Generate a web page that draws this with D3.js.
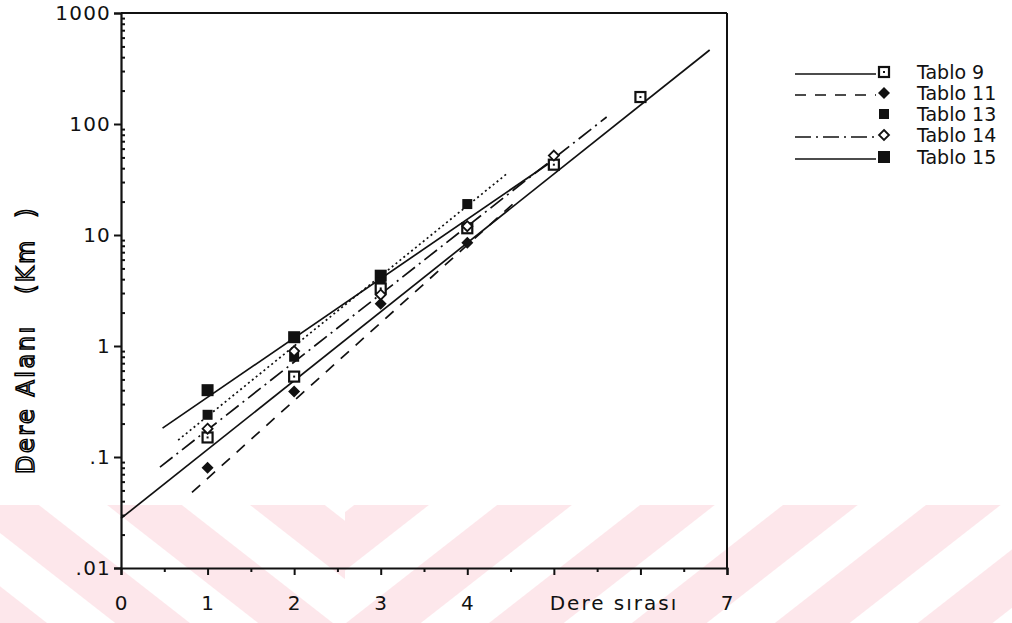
<!DOCTYPE html>
<html>
<head>
<meta charset="utf-8">
<script src="https://cdn.jsdelivr.net/npm/d3@7"></script>
<style>
  html, body { margin: 0; padding: 0; background: #fff; }
  svg { display: block; }
  text { font-family: "DejaVu Sans", sans-serif; fill: #111; }
</style>
</head>
<body>
<svg id="chart" width="1012" height="623"></svg>
<script>
// Stream order (x) against drainage area in km² (log y)
const orders = [1, 2, 3, 4, 5, 6];

const seriesNames = ["Tablo 9", "Tablo 11", "Tablo 13", "Tablo 14", "Tablo 15"];

// Mean areas per order for each table (null = no value)
const tablo9  = [0.15, 0.53, 3.3, 11.5, 43, 175];
const tablo11 = [0.08, 0.39, 2.4, 8.5, null, null];
const tablo13 = [0.24, 0.80, 3.7, 19, null, null];
const tablo14 = [0.18, 0.90, 2.9, 12, 52, null];
const tablo15 = [0.40, 1.20, 4.3, null, null, null];

// Fitted regression lines: start/end order and area
const fit9  = { x: [0.0, 6.8],  y: [0.028, 464] };
const fit11 = { x: [0.82, 4.6], y: [0.048, 21.4] };
const fit13 = { x: [0.66, 4.47], y: [0.142, 36.3] };
const fit14 = { x: [0.45, 5.61], y: [0.081, 115.6] };
const fit15 = { x: [0.48, 4.95], y: [0.182, 44.6] };

const xTicks = [0, 1, 2, 3, 4, 5, 6, 7];
const xTickLabels = ["0", "1", "2", "3", "4", "", "", "7"];
const xMinorTicks = [0.5, 1.5, 2.5, 3.5, 4.5, 5.5, 6.5];
const yTicks = [0.01, 0.1, 1, 10, 100, 1000];
const yTickLabels = [".01", ".1", "1", "10", "100", "1000"];

const svg = d3.select("#chart");

const x = d3.scaleLinear().domain([0, 7]).range([121, 727]);
const y = d3.scaleLog().domain([0.01, 1000]).range([568, 13]);

// Light diagonal background band along the bottom
const defs = svg.append("defs");
function stripePattern(id, angle, offset) {
  const p = defs.append("pattern")
    .attr("id", id)
    .attr("patternUnits", "userSpaceOnUse")
    .attr("x", offset)
    .attr("width", 88).attr("height", 200)
    .attr("patternTransform", `rotate(${angle})`);
  p.append("rect").attr("width", 46).attr("height", 200).attr("fill", "#fde7eb");
}
stripePattern("stripeL", -52, 20);
stripePattern("stripeR", 52, 0);
svg.append("rect").attr("x", 0).attr("y", 505).attr("width", 345).attr("height", 118)
  .attr("fill", "url(#stripeL)");
svg.append("rect").attr("x", 345).attr("y", 505).attr("width", 667).attr("height", 118)
  .attr("fill", "url(#stripeR)");

// Frame (top and right edges)
const frame = svg.append("g").attr("stroke", "#111").attr("stroke-width", 2).attr("fill", "none");
frame.append("line").attr("x1", x(0)).attr("x2", x(7)).attr("y1", y(1000)).attr("y2", y(1000));
frame.append("line").attr("x1", x(7)).attr("x2", x(7)).attr("y1", y(1000)).attr("y2", y(0.01));

// Y axis: decade ticks outward, minor ticks inward
const yMinor = [];
for (let e = -2; e < 3; e++) for (let m = 2; m <= 9; m++) yMinor.push(m * Math.pow(10, e));

svg.append("g").attr("transform", `translate(${x(0)},0)`)
  .call(d3.axisLeft(y).tickValues(yTicks).tickSize(7).tickFormat(""));
svg.append("g").attr("transform", `translate(${x(0)},0)`)
  .call(d3.axisRight(y).tickValues(yMinor).tickSize(4).tickFormat(""))
  .call(g => g.select(".domain").remove());

// X axis
svg.append("g").attr("transform", `translate(0,${y(0.01)})`)
  .call(d3.axisBottom(x).tickValues(xTicks).tickSize(7).tickFormat(""));
svg.append("g").attr("transform", `translate(0,${y(0.01)})`)
  .call(d3.axisBottom(x).tickValues(xMinorTicks).tickSize(4).tickFormat(""))
  .call(g => g.select(".domain").remove());

svg.selectAll(".domain").attr("stroke", "#111").attr("stroke-width", 2.2);
svg.selectAll(".tick line").attr("stroke", "#111").attr("stroke-width", 2);

// Tick labels
svg.append("g").selectAll("text").data(yTicks).join("text")
  .attr("x", x(0) - 10)
  .attr("y", d => y(d) + 7)
  .attr("text-anchor", "end")
  .attr("font-size", 20)
  .attr("letter-spacing", 1.2)
  .text((d, i) => yTickLabels[i]);

svg.append("g").selectAll("text").data(xTicks).join("text")
  .attr("x", d => x(d))
  .attr("y", 610)
  .attr("text-anchor", "middle")
  .attr("font-size", 20)
  .text((d, i) => xTickLabels[i]);

// Axis titles
svg.append("text")
  .attr("x", 614).attr("y", 610)
  .attr("text-anchor", "middle")
  .attr("font-size", 20)
  .attr("letter-spacing", 2)
  .text("Dere sırası");

svg.append("text")
  .attr("transform", "translate(34,340) rotate(-90)")
  .attr("text-anchor", "middle")
  .attr("font-size", 24)
  .attr("letter-spacing", 2.5)
  .style("white-space", "pre")
  .style("fill", "#fff")
  .style("stroke", "#000")
  .style("stroke-width", 1.5)
  .text("Dere Alanı   (Km  )");

// Regression lines
const fits = [
  { fit: fit9,  dash: null },
  { fit: fit11, dash: "11,9" },
  { fit: fit13, dash: "2,3" },
  { fit: fit14, dash: "16,5,2,5" },
  { fit: fit15, dash: null }
];
const lineGen = d3.line().x(d => x(d[0])).y(d => y(d[1]));
svg.append("g").selectAll("path").data(fits).join("path")
  .attr("d", d => lineGen(d3.zip(d.fit.x, d.fit.y)))
  .attr("fill", "none")
  .attr("stroke", "#111")
  .attr("stroke-width", 1.7)
  .attr("stroke-dasharray", d => d.dash);

// Marker drawing
function drawMarker(g, type, cx, cy) {
  if (type === "openSquare") {
    g.append("rect").attr("x", cx - 5).attr("y", cy - 5).attr("width", 10).attr("height", 10)
      .attr("fill", "#fff").attr("stroke", "#111").attr("stroke-width", 2.2);
    g.append("rect").attr("x", cx - 1).attr("y", cy - 1).attr("width", 2).attr("height", 2).attr("fill", "#111");
  } else if (type === "diamond") {
    g.append("path").attr("d", `M${cx},${cy - 6}L${cx + 6},${cy}L${cx},${cy + 6}L${cx - 6},${cy}Z`)
      .attr("fill", "#111");
  } else if (type === "smallSquare") {
    g.append("rect").attr("x", cx - 5).attr("y", cy - 5).attr("width", 10).attr("height", 10).attr("fill", "#111");
  } else if (type === "openDiamond") {
    g.append("path").attr("d", `M${cx},${cy - 5}L${cx + 5},${cy}L${cx},${cy + 5}L${cx - 5},${cy}Z`)
      .attr("fill", "#fff").attr("stroke", "#111").attr("stroke-width", 1.8);
  } else if (type === "bigSquare") {
    g.append("rect").attr("x", cx - 6).attr("y", cy - 6).attr("width", 12).attr("height", 12).attr("fill", "#111");
  }
}

const series = [
  { name: seriesNames[0], values: tablo9,  marker: "openSquare",  dash: null,       legendLine: true },
  { name: seriesNames[1], values: tablo11, marker: "diamond",     dash: "11,9",     legendLine: true },
  { name: seriesNames[2], values: tablo13, marker: "smallSquare", dash: "2,3",      legendLine: false },
  { name: seriesNames[3], values: tablo14, marker: "openDiamond", dash: "16,5,2,5", legendLine: true },
  { name: seriesNames[4], values: tablo15, marker: "bigSquare",   dash: null,       legendLine: true }
];

// Points: draw in an order that keeps overlapping symbols readable
const pointG = svg.append("g");
[4, 2, 0, 1, 3].forEach(si => {
  const s = series[si];
  orders.forEach((o, i) => {
    const v = s.values[i];
    if (v == null) return;
    drawMarker(pointG, s.marker, x(o), y(v));
  });
});

// Legend
const legendRows = [70, 91, 112, 133, 155];
const legend = svg.append("g");
series.forEach((s, i) => {
  const ry = legendRows[i];
  if (s.legendLine) {
    legend.append("line")
      .attr("x1", 795).attr("x2", 876).attr("y1", ry + 4).attr("y2", ry + 4)
      .attr("stroke", "#111").attr("stroke-width", 1.5)
      .attr("stroke-dasharray", s.dash);
  }
  drawMarker(legend, s.marker, 884, ry + 2);
  legend.append("text")
    .attr("x", 917).attr("y", ry + 9)
    .attr("font-size", 19)
    .text(s.name);
});
</script>
</body>
</html>
